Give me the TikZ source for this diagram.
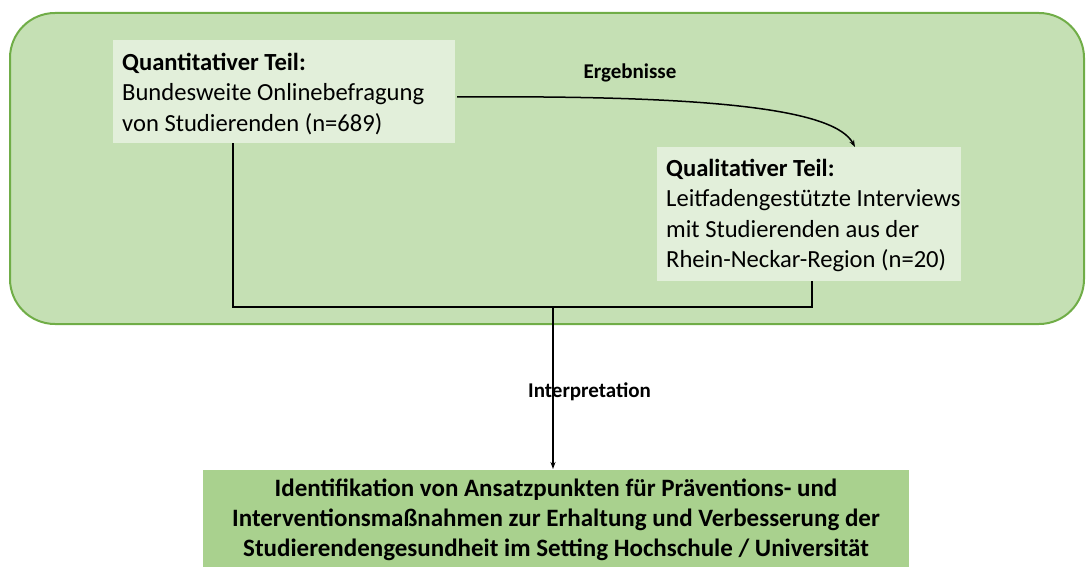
\documentclass[tikz,border=0pt]{standalone}
\usepackage{fontspec}
\setmainfont{Carlito}
\usetikzlibrary{arrows.meta}
\definecolor{outerfill}{HTML}{C5E0B4}
\definecolor{outerdraw}{HTML}{70AD47}
\definecolor{innerfill}{HTML}{E2EFDA}
\definecolor{bottomfill}{HTML}{A9D18E}
\tikzset{
  conn/.style={line width=1.5pt, black},
  arr/.style={conn, -{Stealth[length=7pt,width=5pt]}},
  lbl/.style={font=\fontsize{21}{25}\selectfont\bfseries, inner sep=0pt},
  txt/.style={font=\fontsize{24.6}{30.5}\selectfont, align=left, inner sep=0pt, anchor=north west}
}
\begin{document}
\begin{tikzpicture}[x=1pt,y=-1pt]
\useasboundingbox (0,0) rectangle (1089,567);
\draw[fill=outerfill, draw=outerdraw, line width=2pt, rounded corners=45pt] (10,13) rectangle (1084,324);
% quantitative box
\fill[innerfill] (113,40) rectangle (455,143);
\node[txt] (quant) at (122,53) {\textbf{Quantitativer Teil:}\\Bundesweite Onlinebefragung\\von Studierenden (n=689)};
\coordinate (quantR) at (457,97);
\coordinate (quantB) at (233,143);
% qualitative box
\fill[innerfill] (657,147) rectangle (961,281);
\node[txt] (qual) at (666,159) {\textbf{Qualitativer Teil:}\\Leitfadengestützte Interviews\\mit Studierenden aus der\\Rhein-Neckar-Region (n=20)};
\coordinate (qualT) at (855,147);
\coordinate (qualB) at (812,281);
% bottom box
\fill[bottomfill] (203,470) rectangle (909,567);
\node[font=\fontsize{25}{30}\selectfont\bfseries, align=center, inner sep=0pt] (result) at (556,520) {Identifikation von Ansatzpunkten für Präventions- und\\Interventionsmaßnahmen zur Erhaltung und Verbesserung der\\Studierendengesundheit im Setting Hochschule / Universität};
\coordinate (resultT) at (553,469);
% connectors
\coordinate (j) at (553,307);
\draw[arr] (quantR) .. controls (720,95) and (835,110) .. (qualT);
\node[lbl] (erg) at (630,73) {Ergebnisse};
\draw[conn] (quantB) |- (j) -| (qualB);
\draw[arr] (j) -- (resultT);
\node[lbl, anchor=west] (interp) at (528,392) {Interpretation};
\end{tikzpicture}
\end{document}
